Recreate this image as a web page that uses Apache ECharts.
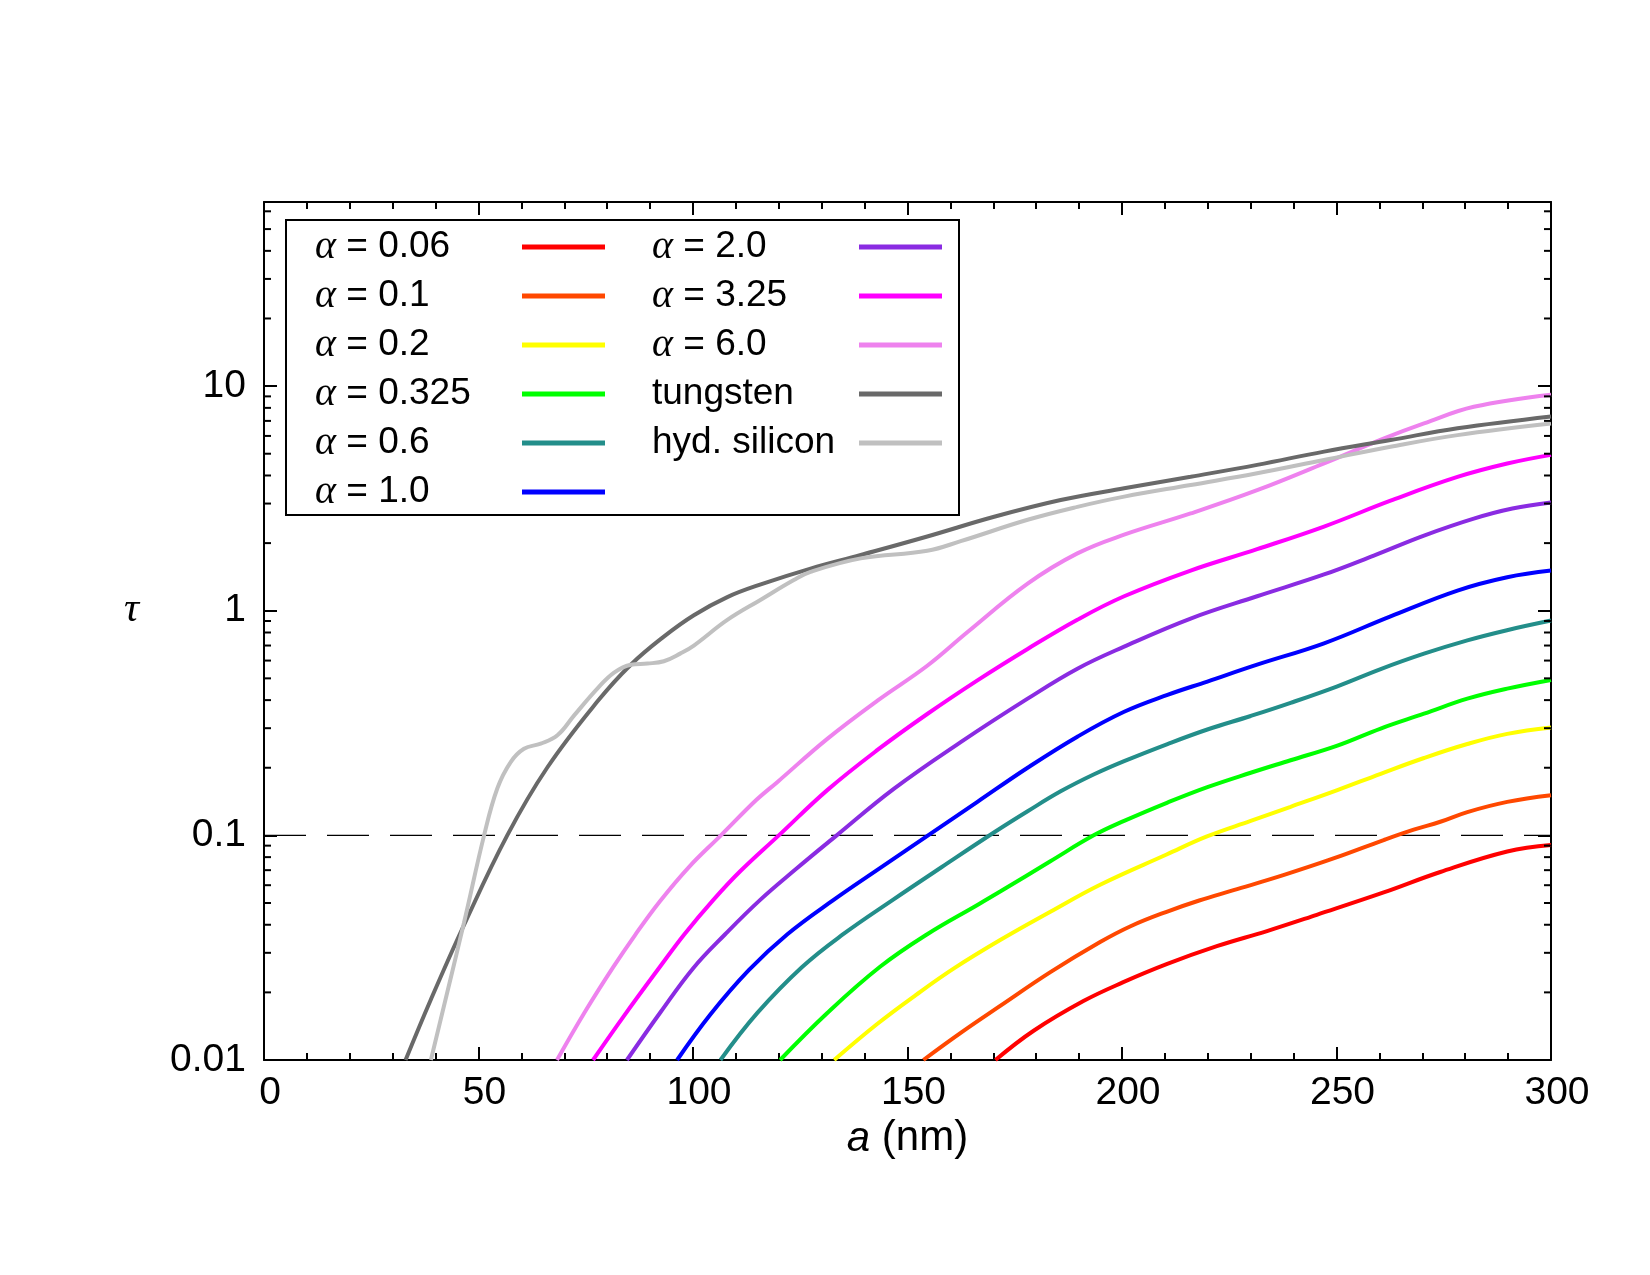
<!DOCTYPE html>
<html>
<head>
<meta charset="utf-8">
<script src="https://cdn.jsdelivr.net/npm/echarts@6/dist/echarts.min.js"></script>
<style>
  html, body { margin: 0; padding: 0; background: #fff; }
  #container { width: 1650px; height: 1275px; }
</style>
</head>
<body>
<div id="container"></div>
<script>
// a (nm) vs tau, log scale
var xMin = 0, xMax = 300, yMin = 0.01, yMax = 66;
var threshold = 0.1;
var yMinorTicks = [0.02, 0.03, 0.04, 0.05, 0.06, 0.07, 0.08, 0.09,
                   0.2, 0.3, 0.4, 0.5, 0.6, 0.7, 0.8, 0.9,
                   2, 3, 4, 5, 6, 7, 8, 9, 20, 30, 40, 50, 60];

var names = ['α = 0.06', 'α = 0.1', 'α = 0.2', 'α = 0.325', 'α = 0.6', 'α = 1.0',
             'α = 2.0', 'α = 3.25', 'α = 6.0', 'tungsten', 'hyd. silicon'];
var colors = ['#ff0000', '#ff4800', '#ffff00', '#00ff00', '#238e8a', '#0000ff',
              '#8a2be2', '#ff00ff', '#ee82ee', '#696969', '#c0c0c0'];

var alpha006 = [[170.5,0.0100],[179.4,0.0135],[191,0.0183],[200.3,0.0222],[210.4,0.0267],[222.1,0.0321],[233.8,0.0375],[245.4,0.0443],[261,0.0557],[274.2,0.0687],[289.8,0.0847],[300,0.0906]];
var alpha01 = [[153.7,0.0100],[162.4,0.0132],[171.6,0.0174],[183.3,0.0246],[194.9,0.0335],[202,0.0394],[210.4,0.0457],[218,0.0513],[226,0.0570],[237.6,0.0665],[249.3,0.0789],[261,0.0953],[268,0.106],[274.2,0.115],[280.5,0.127],[289.8,0.141],[300,0.151]];
var alpha02 = [[132.9,0.0100],[143,0.0145],[152,0.0195],[161,0.0257],[171.6,0.0342],[183.3,0.0457],[194.9,0.0603],[210.4,0.0822],[219.8,0.0989],[230,0.116],[239.3,0.134],[250.2,0.159],[260.3,0.188],[270.4,0.221],[280.5,0.255],[289.8,0.283],[300,0.302]];
var alpha0325 = [[120.3,0.0100],[131.3,0.0162],[143.6,0.0260],[154.6,0.0363],[166.3,0.0490],[171.6,0.0562],[183.3,0.0767],[193.4,0.100],[200.5,0.116],[210.6,0.140],[219.9,0.164],[230,0.190],[239.3,0.216],[250.2,0.251],[260.3,0.299],[270.4,0.348],[280.5,0.406],[289.8,0.450],[300,0.492]];
var alpha06 = [[106.4,0.0100],[115,0.0162],[125.5,0.0260],[135,0.0363],[146.5,0.0515],[158,0.0723],[170.5,0.104],[178,0.128],[185.7,0.157],[193.5,0.187],[200.5,0.214],[210.6,0.255],[219.9,0.296],[230,0.340],[239.3,0.389],[250.2,0.461],[260.3,0.550],[270.4,0.644],[280.5,0.738],[289.5,0.817],[300,0.904]];
var alpha10 = [[96.3,0.0100],[104,0.0159],[113,0.0251],[122,0.0363],[132.7,0.0515],[144,0.0724],[154.8,0.100],[166.3,0.141],[178,0.200],[189.6,0.275],[200.5,0.355],[210.6,0.422],[219.9,0.484],[231.5,0.575],[247.1,0.716],[262.6,0.944],[278.2,1.23],[289.8,1.41],[300,1.51]];
var alpha20 = [[84.6,0.0100],[92.5,0.0164],[100.1,0.0257],[107.5,0.0363],[115.6,0.0515],[124,0.0708],[133.5,0.100],[146.8,0.161],[162.4,0.260],[178,0.406],[189.6,0.552],[200.5,0.692],[216,0.923],[231.5,1.16],[247.1,1.45],[258.7,1.76],[270.4,2.16],[282,2.57],[291,2.85],[300,3.03]];
var alpha325 = [[76.7,0.0100],[84,0.0158],[92.3,0.0260],[98,0.0363],[104.7,0.0515],[111,0.0692],[120,0.100],[131.3,0.159],[143,0.240],[154.6,0.347],[166.3,0.490],[178,0.676],[189.6,0.912],[200.5,1.16],[216,1.51],[231.5,1.88],[247.1,2.37],[262.6,3.09],[278.2,3.94],[289.8,4.52],[300,4.94]];
var alpha60 = [[68.3,0.0100],[75,0.0166],[81.4,0.0259],[86.5,0.0360],[92.3,0.0509],[99,0.0721],[106.5,0.100],[114.8,0.144],[119.7,0.173],[131.3,0.269],[143,0.398],[154.6,0.569],[164,0.804],[178,1.32],[189.6,1.80],[200.5,2.18],[216,2.71],[231.5,3.44],[247.1,4.53],[261.1,5.85],[270.4,6.82],[282,8.09],[300,9.16]];
var tungsten = [[33,0.0100],[38.9,0.0186],[46.6,0.0398],[56.7,0.100],[66,0.200],[77.7,0.394],[85.5,0.575],[93.2,0.767],[100.2,0.955],[108,1.15],[115.8,1.31],[127.4,1.54],[139.1,1.77],[154.6,2.14],[170.2,2.62],[185.7,3.11],[200.5,3.51],[216,3.95],[231.5,4.46],[247.1,5.11],[262.6,5.75],[278.2,6.49],[300,7.33]];
var hydSilicon = [[38.9,0.0100],[46.6,0.0407],[51.3,0.100],[54.4,0.162],[57.5,0.212],[60.6,0.243],[64.5,0.256],[68.4,0.279],[72.3,0.342],[77.7,0.450],[81.6,0.530],[85.5,0.575],[89.4,0.582],[93.2,0.596],[97.1,0.646],[100.2,0.700],[108,0.910],[115.8,1.12],[123.5,1.37],[127.4,1.49],[139.1,1.71],[154.6,1.85],[162.4,2.04],[178,2.54],[189.6,2.90],[200.5,3.22],[216,3.63],[231.5,4.09],[247.1,4.69],[262.6,5.37],[278.2,6.05],[300,6.81]];

var curves = [alpha006, alpha01, alpha02, alpha0325, alpha06, alpha10, alpha20, alpha325, alpha60, tungsten, hydSilicon];

var sans = 'Liberation Sans';
var black = { color: '#000', width: 2 };

var series = [];
// dashed line at tau = 0.1
series.push({
    type: 'line',
    name: 'threshold',
    data: [[xMin, threshold], [xMax, threshold]],
    symbol: 'none',
    silent: true,
    z: 1,
    lineStyle: { color: '#000', width: 1.2, type: [42, 21] }
});
for (var i = 0; i < curves.length; i++) {
    series.push({
        type: 'line',
        name: names[i],
        data: curves[i],
        symbol: 'none',
        smooth: 0.4,
        z: 3 + i,
        color: colors[i],
        lineStyle: { color: colors[i], width: 4 }
    });
}
// minor ticks of the log axis, both sides
series.push({
    type: 'custom',
    name: 'minor',
    silent: true,
    z: 30,
    data: yMinorTicks.map(function (v) { return [xMin, v]; }),
    renderItem: function (params, api) {
        var v = api.value(1);
        var l = api.coord([xMin, v]);
        var r = api.coord([xMax, v]);
        return {
            type: 'group',
            children: [
                { type: 'line', shape: { x1: l[0], y1: l[1], x2: l[0] + 7, y2: l[1] }, style: { stroke: '#000', lineWidth: 2 } },
                { type: 'line', shape: { x1: r[0] - 7, y1: r[1], x2: r[0], y2: r[1] }, style: { stroke: '#000', lineWidth: 2 } }
            ]
        };
    }
});

function xAxisCfg(pos, showLabel) {
    return {
        type: 'value', position: pos, min: xMin, max: xMax, interval: 50,
        axisLine: { show: true, onZero: false, lineStyle: black },
        axisTick: { show: true, inside: true, length: 13, lineStyle: black },
        minorTick: { show: true, splitNumber: 5, length: 7, lineStyle: black },
        splitLine: { show: false },
        axisLabel: { show: showLabel, color: '#000', fontFamily: sans, fontSize: 39, margin: 14, padding: [0, 0, 0, 12] }
    };
}
function yAxisCfg(pos, showLabel) {
    return {
        type: 'log', logBase: 10, position: pos, min: yMin, max: yMax,
        axisLine: { show: true, onZero: false, lineStyle: black },
        axisTick: { show: true, inside: true, length: 13, lineStyle: black },
        splitLine: { show: false },
        axisLabel: {
            show: showLabel, color: '#000', fontFamily: sans, fontSize: 39, margin: 18,
            formatter: function (v) { return v > 11 ? '' : String(v); }
        }
    };
}

var xBottom = xAxisCfg('bottom', true);
xBottom.name = '{i|a} (nm)';
xBottom.nameLocation = 'middle';
xBottom.nameGap = 52;
xBottom.nameTextStyle = {
    color: '#000', fontFamily: sans, fontSize: 42,
    rich: { i: { color: '#000', fontFamily: sans, fontSize: 42, fontStyle: 'italic' } }
};
var yLeft = yAxisCfg('left', true);
yLeft.name = 'τ';
yLeft.nameLocation = 'middle';
yLeft.nameRotate = 0;
yLeft.nameGap = 125;
yLeft.nameTextStyle = { color: '#000', fontFamily: 'Liberation Serif', fontStyle: 'italic', fontSize: 42, lineHeight: 42, verticalAlign: 'bottom' };

function legendCfg(list, left) {
    return {
        data: list,
        orient: 'vertical',
        left: left, top: 227,
        padding: 0,
        align: 'right',
        icon: 'rect',
        itemWidth: 83, itemHeight: 5,
        itemGap: 9,
        selectedMode: false,
        formatter: function (name) {
            return name.charAt(0) === 'α' ? '{g|α}{t|' + name.slice(1) + '}' : '{t|' + name + '}';
        },
        textStyle: {
            color: '#000', fontFamily: sans, fontSize: 37, width: 202, lineHeight: 40,
            rich: {
                g: { color: '#000', fontFamily: 'Liberation Serif', fontStyle: 'italic', fontSize: 40, lineHeight: 40, align: 'left' },
                t: { color: '#000', fontFamily: sans, fontSize: 37, lineHeight: 40, align: 'left' }
            }
        }
    };
}

var dom = document.getElementById('container');
var myChart = echarts.init(dom, null, { renderer: 'canvas' });
var option = {
    animation: false,
    backgroundColor: '#fff',
    grid: { left: 264, right: 99, top: 202, bottom: 215, outerBoundsMode: 'none' },
    xAxis: [xBottom, xAxisCfg('top', false)],
    yAxis: [yLeft, yAxisCfg('right', false)],
    legend: [legendCfg(names.slice(0, 6), 315), legendCfg(names.slice(6), 652)],
    graphic: [{
        type: 'rect',
        shape: { x: 286, y: 220, width: 673, height: 295 },
        style: { fill: 'none', stroke: '#000', lineWidth: 2 },
        silent: true
    }],
    series: series
};
myChart.setOption(option, true);
</script>
</body>
</html>
